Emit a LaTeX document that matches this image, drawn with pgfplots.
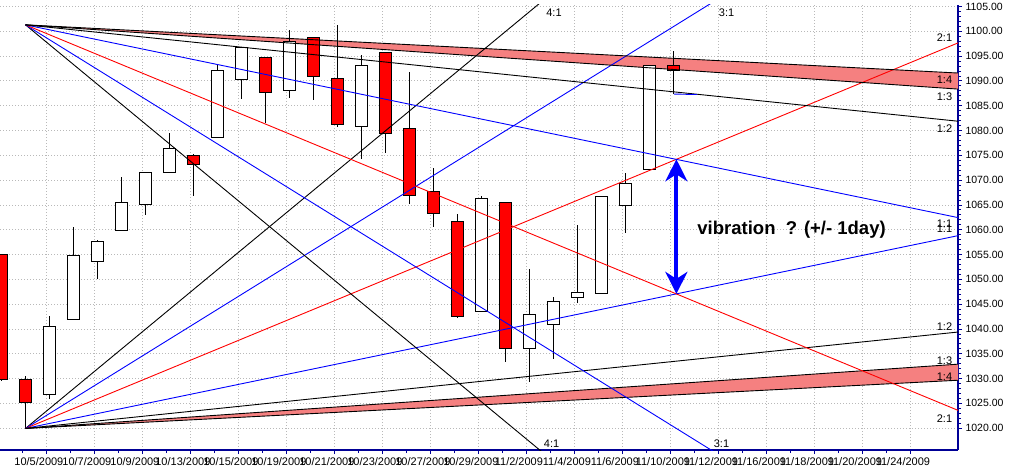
\documentclass[border=0pt]{standalone}
\usepackage{fontspec}
\setmainfont{Liberation Sans}
\usepackage{pgfplots}
\usepackage{pgfplotstable}
\pgfplotsset{compat=1.18}
\usetikzlibrary{arrows.meta}

\definecolor{axisblue}{RGB}{0,0,150}
\definecolor{gridgray}{RGB}{185,185,185}
\definecolor{bandpink}{RGB}{245,128,128}
\definecolor{fanblue}{RGB}{0,0,255}
\definecolor{fanred}{RGB}{255,0,0}

% x = trading day (0 = 10/1/2009), o h l c
\pgfplotstableread{
x  o       h       l       c
2  1026.87 1042.58 1025.92 1040.46
3  1042.02 1060.55 1042.02 1054.72
4  1053.65 1058.02 1050.10 1057.58
5  1060.03 1070.67 1060.03 1065.48
6  1065.28 1071.51 1063.00 1071.49
7  1071.63 1079.46 1071.63 1076.19
9  1078.68 1093.17 1078.68 1092.02
10 1090.36 1096.56 1086.41 1096.56
12 1088.22 1100.17 1086.48 1097.91
15 1080.96 1095.21 1074.31 1092.91
20 1043.69 1066.83 1043.69 1066.11
22 1036.18 1052.18 1029.38 1042.88
23 1040.92 1046.36 1033.94 1045.41
24 1047.30 1061.00 1045.15 1046.50
25 1047.30 1066.65 1047.30 1066.63
26 1064.95 1071.48 1059.32 1069.30
27 1072.31 1093.19 1072.31 1093.08
}\updays

\pgfplotstableread{
x  o       h       l       c
0  1054.91 1054.91 1029.45 1029.85
1  1029.71 1030.60 1019.95 1025.21
8  1074.96 1075.30 1066.71 1073.19
11 1094.67 1094.67 1081.53 1087.68
13 1098.64 1098.64 1086.16 1091.06
14 1090.36 1101.36 1080.77 1081.40
16 1095.62 1095.83 1075.49 1079.60
17 1080.36 1091.75 1065.23 1066.95
18 1067.54 1072.48 1060.62 1063.41
19 1061.51 1063.26 1042.19 1042.63
21 1065.41 1065.41 1033.38 1036.19
28 1092.22 1096.09 1087.40 1093.01
}\downdays

\pgfplotsset{
  wick/.style={draw=none, mark=none, forget plot,
    error bars/.cd, y dir=both, y explicit, error mark=none,
    error bar style={draw=black, line width=1.1pt}},
  body/.style 2 args={draw=none, mark=none, forget plot,
    error bars/.cd, y dir=both, y explicit, error mark=none,
    error bar style={draw=#1, line width=#2}},
}

\begin{document}
\begin{tikzpicture}
\begin{axis}[
  at={(0pt,0pt)}, anchor=south west,
  width=958pt, height=445pt, scale only axis,
  xmin=-0.0625, xmax=39.854,
  ymin=1015.6, ymax=1105.3,
  axis x line*=bottom, axis y line*=right,
  axis line style={draw=axisblue, line width=1.5pt},
  xtick={-0.15,1.85,...,37.9},
  xticklabels={10/1/2009,10/5/2009,10/7/2009,10/9/2009,10/13/2009,10/15/2009,10/19/2009,10/21/2009,10/23/2009,10/27/2009,10/29/2009,11/2/2009,11/4/2009,11/6/2009,11/10/2009,11/12/2009,11/16/2009,11/18/2009,11/20/2009,11/24/2009},
  minor x tick num=1,
  ytick={1020,1025,...,1105},
  minor y tick num=4,
  tick align=outside,
  major tick length=4pt, minor tick length=3pt,
  tick style={draw=axisblue, line width=0.8pt},
  xmajorgrids, ymajorgrids,
  major grid style={draw=gridgray, line width=0.8pt, dash pattern=on 1pt off 2pt},
  xticklabel style={font=\fontsize{11}{13}\selectfont, xshift=-7pt},
  yticklabel style={font=\fontsize{10.5}{12}\selectfont,
    /pgf/number format/fixed, /pgf/number format/fixed zerofill,
    /pgf/number format/precision=2, /pgf/number format/1000 sep={},
    /pgf/number format/assume math mode=true},
  clip=true,
]
% pink bands between the 1:3 and 1:4 lines
\addplot[draw=none, fill=bandpink, forget plot] coordinates {(1,1101.3) (40,1091.55) (40,1088.3)};
\addplot[draw=none, fill=bandpink, forget plot] coordinates {(1,1019.95) (40,1029.70) (40,1032.95)};

% candles: wicks, outlines, bodies
\addplot[wick] table[x=x, y expr=(\thisrow{h}+\thisrow{l})/2, y error expr=(\thisrow{h}-\thisrow{l})/2] {\updays};
\addplot[wick] table[x=x, y expr=(\thisrow{h}+\thisrow{l})/2, y error expr=(\thisrow{h}-\thisrow{l})/2] {\downdays};
\addplot[body={black}{12.5pt}] table[x=x, y expr=(\thisrow{o}+\thisrow{c})/2, y error expr=abs(\thisrow{o}-\thisrow{c})/2+0.2] {\updays};
\addplot[body={black}{12.5pt}] table[x=x, y expr=(\thisrow{o}+\thisrow{c})/2, y error expr=abs(\thisrow{o}-\thisrow{c})/2+0.2] {\downdays};
\addplot[body={white}{10.5pt}] table[x=x, y expr=(\thisrow{o}+\thisrow{c})/2, y error expr=abs(\thisrow{o}-\thisrow{c})/2] {\updays};
\addplot[body={red}{10.5pt}] table[x=x, y expr=(\thisrow{o}+\thisrow{c})/2, y error expr=abs(\thisrow{o}-\thisrow{c})/2] {\downdays};

% fan from the low
\addplot[black, line width=0.9pt] coordinates {(1,1019.95) (40,1175.95)};
\addplot[fanblue, line width=0.9pt] coordinates {(1,1019.95) (40,1136.95)};
\addplot[fanred, line width=0.9pt] coordinates {(1,1019.95) (40,1097.95)};
\addplot[fanblue, line width=0.9pt] coordinates {(1,1019.95) (40,1058.95)};
\addplot[black, line width=0.9pt] coordinates {(1,1019.95) (40,1039.45)};
\addplot[black, line width=0.9pt] coordinates {(1,1019.95) (40,1032.95)};
\addplot[black, line width=0.9pt] coordinates {(1,1019.95) (40,1029.70)};
% fan from the high
\addplot[black, line width=0.9pt] coordinates {(1,1101.3) (40,945.3)};
\addplot[fanblue, line width=0.9pt] coordinates {(1,1101.3) (40,984.3)};
\addplot[fanred, line width=0.9pt] coordinates {(1,1101.3) (40,1023.3)};
\addplot[fanblue, line width=0.9pt] coordinates {(1,1101.3) (40,1062.3)};
\addplot[black, line width=0.9pt] coordinates {(1,1101.3) (40,1081.8)};
\addplot[black, line width=0.9pt] coordinates {(1,1101.3) (40,1088.3)};
\addplot[black, line width=0.9pt] coordinates {(1,1101.3) (40,1091.55)};
\addplot[fanblue, line width=0.9pt] coordinates {(28.02,1087.35) (28.98,1087.25)};

% vibration arrow
\addplot[fanblue, line width=4pt, {Stealth[length=22pt,width=22pt,inset=7pt]}-{Stealth[length=22pt,width=22pt,inset=7pt]}] coordinates {(28.12,1047.07) (28.12,1074.2)};

\node[anchor=base west, font=\bfseries\fontsize{18.5}{20}\selectfont] at (28.85,1059.11) {vibration\ \ ? (+/- 1day)};

% first date label, whose tick lies just left of the plot
\node[anchor=north, font=\fontsize{11}{13}\selectfont, xshift=-7pt, yshift=-4pt] at (-0.15,1015.6) {10/1/2009};

% ratio labels
\begin{scope}[every node/.style={font=\fontsize{11}{12}\selectfont, inner sep=0pt}]
\node at (39.29,1098.79) {2:1};
\node at (39.29,1090.22) {1:4};
\node at (39.29,1086.9) {1:3};
\node at (39.29,1080.34) {1:2};
\node at (39.29,1061.19) {1:1};
\node at (39.29,1060.18) {1:1};
\node at (39.29,1040.42) {1:2};
\node at (39.29,1033.57) {1:3};
\node at (39.29,1030.34) {1:4};
\node at (39.29,1021.87) {2:1};
\node at (23.02,1103.79) {4:1};
\node at (30.21,1103.79) {3:1};
\node at (22.92,1016.83) {4:1};
\node at (30.0,1016.83) {3:1};
\end{scope}
\end{axis}
\pgfresetboundingbox
\useasboundingbox (0pt,-17pt) rectangle (1009pt,450pt);
\end{tikzpicture}
\end{document}
